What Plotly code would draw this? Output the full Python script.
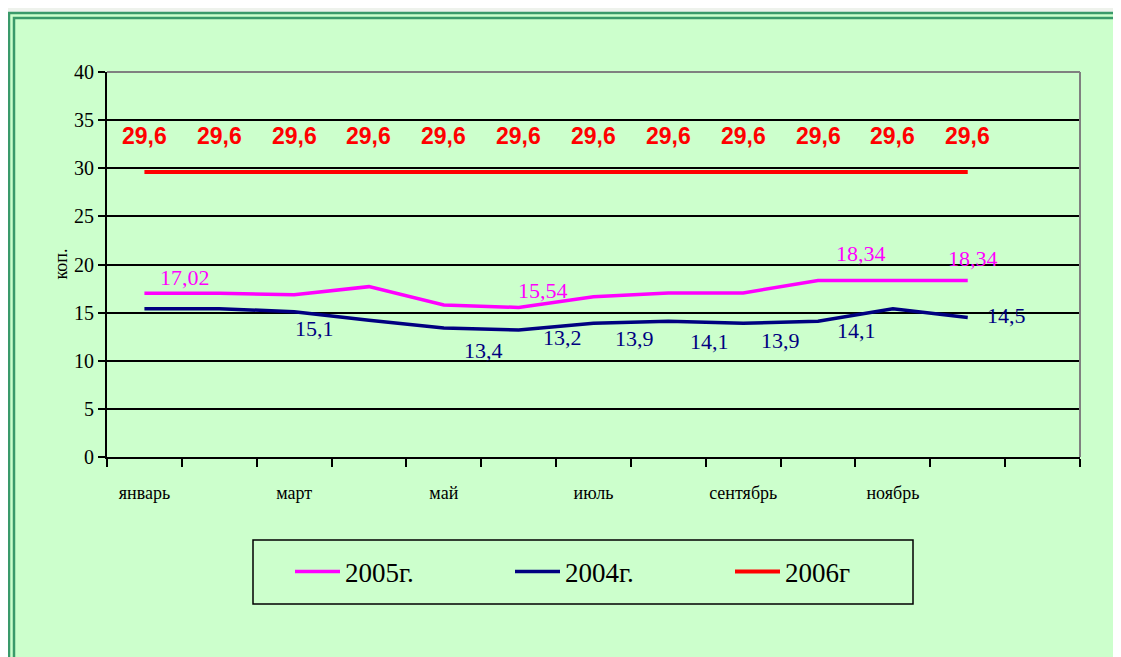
import plotly.graph_objects as go

# --- данные ---
months = ["январь", "февраль", "март", "апрель", "май", "июнь",
          "июль", "август", "сентябрь", "октябрь", "ноябрь", "декабрь"]
price_2005 = [17.02, 17.02, 16.85, 17.7, 15.8, 15.54, 16.65, 17.05, 17.05, 18.34, 18.34, 18.34]
price_2004 = [15.4, 15.4, 15.1, 14.2, 13.4, 13.2, 13.9, 14.1, 13.9, 14.1, 15.4, 14.5]
price_2006 = [29.6] * 12

# какие точки подписаны (индекс месяца)
labels_2005 = [0, 5, 9, 11]
labels_2004 = [2, 4, 5, 6, 7, 8, 9, 11]
labels_2006 = list(range(12))

# смещения подписей в пикселях (dx, dy)
shift_2005 = {0: (41, 16), 5: (24, 17), 9: (43, 27), 11: (5, 22)}
shift_2004 = {2: (20, -17), 4: (40, -22), 5: (44, -8), 6: (41, -15),
              7: (41, -20), 8: (37, -17), 9: (38, -9), 11: (39, 2)}

PINK = "#FF00FF"
NAVY = "#000080"
RED = "#FF0000"
GREEN_BG = "#CCFFCC"
FRAME = "#3A9A6A"
SERIF = "Liberation Serif, Times New Roman, serif"

# страница браузера добавляет отступ 8px, поэтому всё смещаем
OFF = 8
W, H = 1121 - OFF, 657 - OFF
# область графика в пикселях окна: 107..1080 x 72..457
L, R, T, B = 107 - OFF, 1080 - OFF, 72 - OFF, 457 - OFF


def px(x):
    return (x - OFF - L) / (R - L)


def py(y):
    return (B - (y - OFF)) / (B - T)


def fmt(v):
    return f"{v:g}".replace(".", ",")


x = list(range(len(months)))

fig = go.Figure()
fig.add_trace(go.Scatter(x=x, y=price_2005, name="2005г.", mode="lines",
                         line=dict(color=PINK, width=3.5)))
fig.add_trace(go.Scatter(x=x, y=price_2004, name="2004г.", mode="lines",
                         line=dict(color=NAVY, width=3.5)))
fig.add_trace(go.Scatter(x=x, y=price_2006, name="2006г", mode="lines",
                         line=dict(color=RED, width=4)))
# второй ось только для подписей месяцев
fig.add_trace(go.Scatter(x=x, y=price_2006, xaxis="x2", mode="lines",
                         line=dict(width=0), showlegend=False, hoverinfo="skip"))

annotations = []
for i in labels_2005:
    dx, dy = shift_2005[i]
    annotations.append(dict(x=i, y=price_2005[i], text=fmt(price_2005[i]), showarrow=False,
                            xshift=dx, yshift=dy, font=dict(family=SERIF, size=22, color=PINK)))
for i in labels_2004:
    dx, dy = shift_2004[i]
    annotations.append(dict(x=i, y=price_2004[i], text=fmt(price_2004[i]), showarrow=False,
                            xshift=dx, yshift=dy, font=dict(family=SERIF, size=22, color=NAVY)))
for i in labels_2006:
    annotations.append(dict(x=i, y=price_2006[i], text="<b>" + fmt(price_2006[i]) + "</b>",
                            showarrow=False, yshift=36,
                            font=dict(family="Liberation Sans, Arial, sans-serif", size=23, color=RED)))
annotations.append(dict(xref="paper", yref="paper", x=px(48), y=0.5, text="коп.", textangle=-90,
                        showarrow=False, font=dict(family=SERIF, size=18, color="black")))

shapes = [
    # рамка слайда
    dict(type="rect", xref="paper", yref="paper", x0=px(9), x1=px(1140), y0=py(13), y1=py(700),
         line=dict(color=FRAME, width=2.5), fillcolor=GREEN_BG, layer="below"),
    dict(type="rect", xref="paper", yref="paper", x0=px(14), x1=px(1135), y0=py(18), y1=py(695),
         line=dict(color=FRAME, width=2.5), layer="below"),
    # серая рамка области графика сверху и справа
    dict(type="line", xref="paper", yref="paper", x0=0, x1=1, y0=1, y1=1,
         line=dict(color="#808080", width=2), layer="above"),
    dict(type="line", xref="paper", yref="paper", x0=1, x1=1, y0=0, y1=1,
         line=dict(color="#808080", width=2), layer="above"),
    # рамка легенды
    dict(type="rect", xref="paper", yref="paper", x0=px(253), x1=px(913), y0=py(540), y1=py(604),
         line=dict(color="black", width=1.5)),
]

fig.update_layout(
    width=W, height=H,
    margin=dict(l=L, r=W - R, t=T, b=H - B),
    paper_bgcolor="#EEF2EC",
    plot_bgcolor=GREEN_BG,
    font=dict(family=SERIF, color="black"),
    showlegend=True,
    legend=dict(orientation="h", x=px(290), y=py(572), xanchor="left", yanchor="middle",
                font=dict(family=SERIF, size=27, color="black"),
                bgcolor="rgba(0,0,0,0)", entrywidth=160, entrywidthmode="pixels",
                itemwidth=45),
    annotations=annotations,
    shapes=shapes,
    xaxis=dict(range=[-0.5, 12.5], tickmode="array",
               tickvals=[v - 0.5 for v in range(14)],
               showticklabels=False, ticks="outside", ticklen=8, tickwidth=1.5, tickcolor="black",
               showgrid=False, zeroline=False, showline=True, linecolor="black", linewidth=2),
    xaxis2=dict(range=[-0.5, 12.5], overlaying="x", side="bottom", anchor="y",
                tickmode="array", tickvals=x[:12:2], ticktext=months[:12:2],
                ticks="outside", ticklen=19, tickcolor="rgba(0,0,0,0)",
                tickfont=dict(family=SERIF, size=18, color="black"),
                showgrid=False, zeroline=False, showline=False),
    yaxis=dict(range=[0, 40], tickmode="array", tickvals=list(range(0, 41, 5)),
               ticks="outside", ticklen=7, tickwidth=1.5, tickcolor="black",
               tickfont=dict(family=SERIF, size=20, color="black"),
               showgrid=True, gridcolor="black", gridwidth=1.5,
               zeroline=False, showline=True, linecolor="black", linewidth=2),
)

fig.write_html("out.html")
